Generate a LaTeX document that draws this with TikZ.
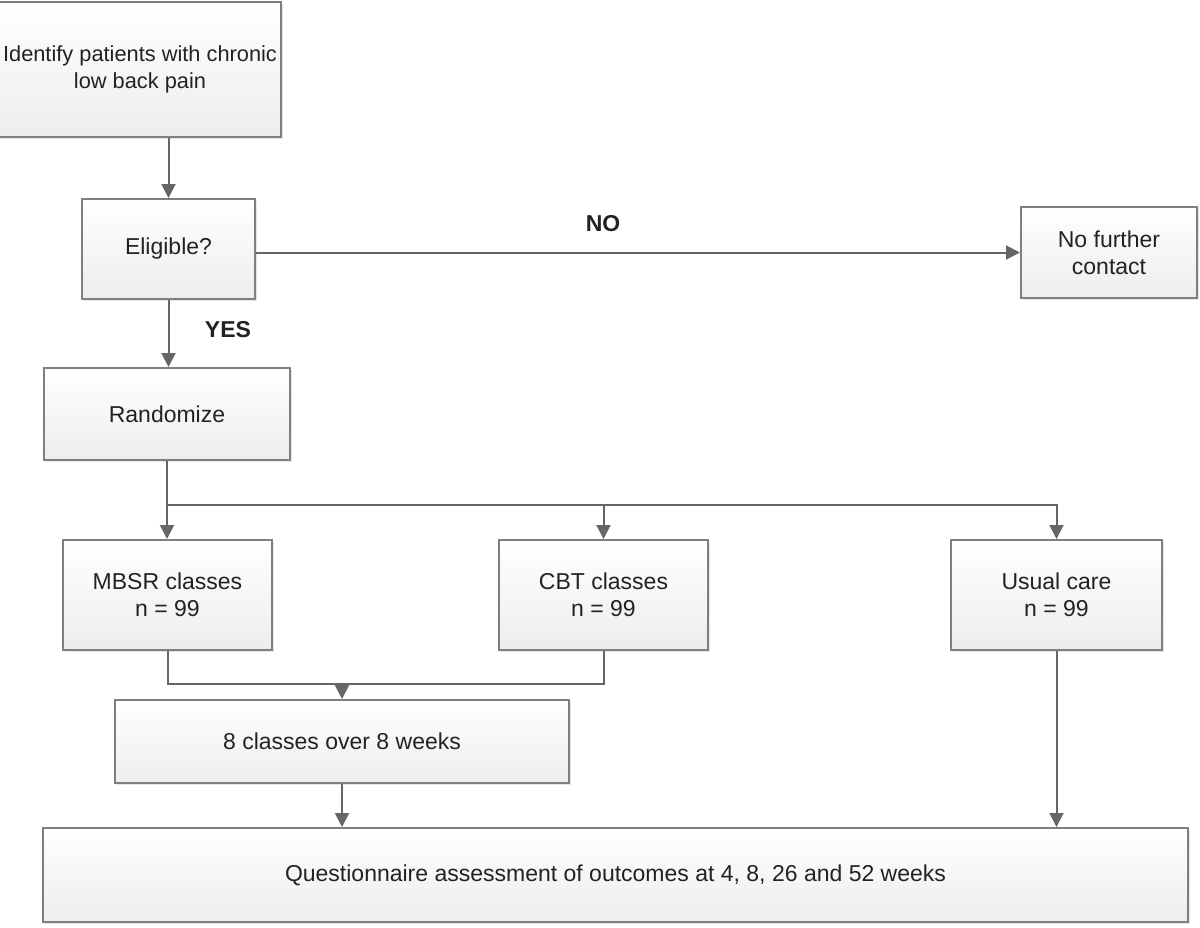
\documentclass[tikz,border=0pt]{standalone}
\usepackage{fontspec}
\setmainfont{Liberation Sans}
\usetikzlibrary{arrows.meta,shadows}
\definecolor{linegray}{HTML}{666666}
\definecolor{boxline}{HTML}{7F7F7F}
\definecolor{boxbot}{HTML}{EDEDED}
\definecolor{txt}{HTML}{222222}
\begin{document}
\begin{tikzpicture}[x=0.5pt,y=-0.5pt,
  box/.style={draw=boxline, line width=1pt, top color=white, bottom color=boxbot,
    align=center, text=txt, font=\fontsize{11.5pt}{13.5pt}\selectfont, inner sep=2pt,
    drop shadow={shadow xshift=1pt, shadow yshift=-1pt, opacity=0.2, fill=gray}},
  conn/.style={draw=linegray, line width=1pt},
  arr/.style={conn, -{Triangle[length=7pt,width=7pt]}},
  lbl/.style={font=\bfseries\fontsize{11.5pt}{13.5pt}\selectfont, text=txt}]
\useasboundingbox (0,0) rectangle (1200,927);
\node[box, minimum width=138pt, minimum height=67.5pt, font=\fontsize{10.9pt}{13.5pt}\selectfont] (id) at (140,69.5) {Identify patients with chronic\\low back pain};
\node[box, minimum width=86.5pt, minimum height=50pt] (el) at (168.5,249) {Eligible?};
\node[box, minimum width=88pt, minimum height=45.5pt] (nf) at (1109,252.5) {No further\\contact};
\node[box, minimum width=123pt, minimum height=46pt] (ra) at (167,414) {Randomize};
\node[box, minimum width=104.5pt, minimum height=55pt] (mb) at (167.5,595) {MBSR classes\\n = 99};
\node[box, minimum width=104.5pt, minimum height=55pt] (cb) at (603.5,595) {CBT classes\\n = 99};
\node[box, minimum width=105.5pt, minimum height=55pt] (us) at (1056.5,595) {Usual care\\n = 99};
\node[box, minimum width=227pt, minimum height=41.5pt] (ec) at (342,741.5) {8 classes over 8 weeks};
\node[box, minimum width=572.5pt, minimum height=47pt] (qa) at (615.5,875) {Questionnaire assessment of outcomes at 4, 8, 26 and 52 weeks};
\node[lbl] (no) at (603,224) {NO};
\node[lbl] (yes) at (228,330) {YES};
\coordinate (sp) at (167,505);
\coordinate (mg) at (342,684);
\draw[arr] (el.north |- id.south) -- (el.north);
\draw[arr] (el.east |- nf.west) -- (nf.west);
\draw[arr] (el.south) -- (el.south |- ra.north);
\draw[arr] (ra.south) -- (ra.south |- mb.north);
\draw[arr] (sp) -| (cb.north);
\draw[arr] (sp) -| (us.north);
\draw[conn] (mb.south) |- (mg) -| (cb.south);
\draw[arr] (mg) -- (ec.north);
\draw[arr] (ec.south) -- (ec.south |- qa.north);
\draw[arr] (us.south) -- (us.south |- qa.north);
\end{tikzpicture}
\end{document}
